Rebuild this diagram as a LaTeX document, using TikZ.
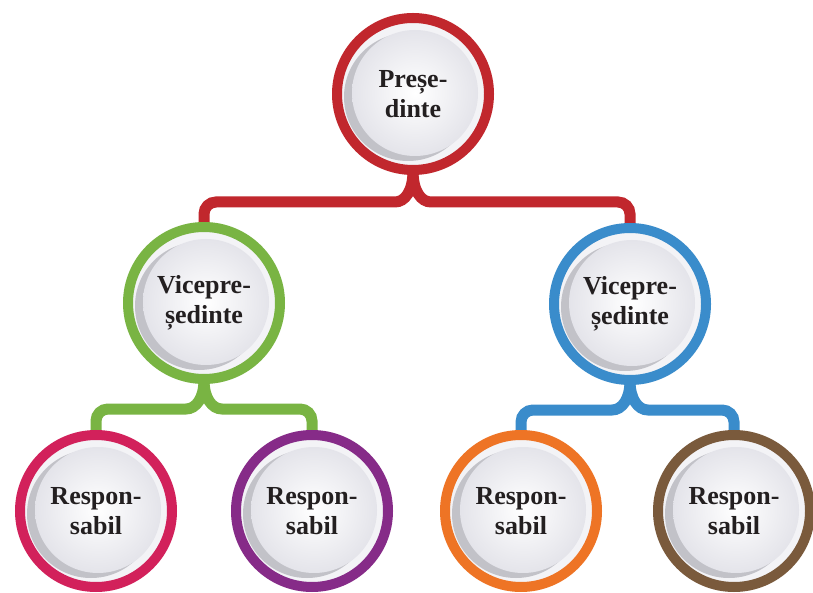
\documentclass[tikz,border=0pt]{standalone}
\usepackage{fontspec}
\setmainfont{Liberation Serif}
\usetikzlibrary{calc,backgrounds}
\definecolor{cred}{HTML}{C1272D}
\definecolor{cgreen}{HTML}{79B443}
\definecolor{cblue}{HTML}{3A8CCB}
\definecolor{cpink}{HTML}{D2215B}
\definecolor{cpurple}{HTML}{862B88}
\definecolor{corange}{HTML}{EE7425}
\definecolor{cbrown}{HTML}{7A5A3C}
\definecolor{txt}{HTML}{231F20}
\definecolor{shadowc}{HTML}{C2C2C8}
\definecolor{discedge}{HTML}{E4E4EA}
\definecolor{basec}{HTML}{F3F3F6}
\tikzset{
  member/.style={circle, draw=#1, line width=10pt, fill=basec, inner sep=0pt,
    minimum size=152pt, align=center, text=txt,
    font=\bfseries\fontsize{26}{30}\selectfont,
    path picture={
      \coordinate (ctr) at (path picture bounding box.center);
      \fill[shadowc] ($(ctr)+(-5,-3)$) circle (64pt);
      \shade[inner color=white, outer color=discedge] ($(ctr)+(2,1)$) circle (63pt);
    }},
  conn/.style={draw=#1, line width=11pt, rounded corners=12pt}
}
\begin{document}
\begin{tikzpicture}[x=1pt,y=1pt]
\useasboundingbox (0,0) rectangle (813,592);
\node[member=cred] (p) at (413,498) {Preșe-\\dinte};
\node[member=cgreen] (v1) at (204,289) {Vicepre-\\ședinte};
\node[member=cblue] (v2) at (630,288) {Vicepre-\\ședinte};
\node[member=cpink] (r1) at (96,81) {Respon-\\sabil};
\node[member=cpurple] (r2) at (312,81) {Respon-\\sabil};
\node[member=corange] (r3) at (521,81) {Respon-\\sabil};
\node[member=cbrown] (r4) at (734,81) {Respon-\\sabil};
\begin{scope}[on background layer]
\fill[white] (0,0) rectangle (813,592);
\draw[conn=cred] ($(p.south)+(0,4)$) .. controls ($(p.south)+(0,-16)$) and ($(p.south)+(-8,-27)$) .. ($(p.south)+(-30,-27)$) -| (v1.north);
\draw[conn=cred] ($(p.south)+(0,4)$) .. controls ($(p.south)+(0,-16)$) and ($(p.south)+(8,-27)$) .. ($(p.south)+(30,-27)$) -| (v2.north);
\draw[conn=cgreen] ($(v1.south)+(0,4)$) .. controls ($(v1.south)+(0,-14)$) and ($(v1.south)+(-8,-25)$) .. ($(v1.south)+(-30,-25)$) -| (r1.north);
\draw[conn=cgreen] ($(v1.south)+(0,4)$) .. controls ($(v1.south)+(0,-14)$) and ($(v1.south)+(8,-25)$) .. ($(v1.south)+(30,-25)$) -| (r2.north);
\draw[conn=cblue] ($(v2.south)+(0,4)$) .. controls ($(v2.south)+(0,-14)$) and ($(v2.south)+(-8,-25)$) .. ($(v2.south)+(-30,-25)$) -| (r3.north);
\draw[conn=cblue] ($(v2.south)+(0,4)$) .. controls ($(v2.south)+(0,-14)$) and ($(v2.south)+(8,-25)$) .. ($(v2.south)+(30,-25)$) -| (r4.north);
\end{scope}
\end{tikzpicture}
\end{document}
